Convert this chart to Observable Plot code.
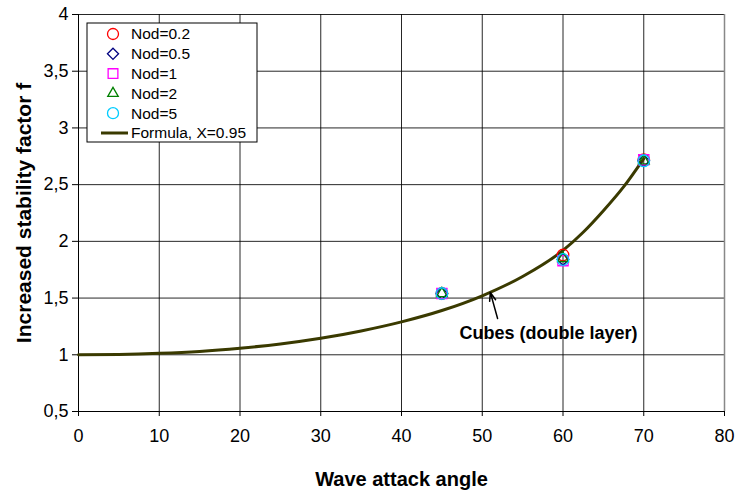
<!DOCTYPE html>
<html>
<head>
<meta charset="utf-8">
<script src="https://cdn.jsdelivr.net/npm/d3@7"></script>
<script src="https://cdn.jsdelivr.net/npm/@observablehq/plot@0.6"></script>
<style>
  html, body { margin: 0; padding: 0; background: #fff; }
  #chart { position: relative; width: 738px; height: 493px; }
  svg { font-family: "Liberation Sans", Arial, sans-serif; }
</style>
</head>
<body>
<div id="chart"></div>
<script>
// ---- data ----
const angles = [45, 60, 70];
const nod02 = [1.54, 1.88, 2.72];
const nod05 = [1.54, 1.84, 2.71];
const nod1  = [1.54, 1.83, 2.72];
const nod2  = [1.54, 1.85, 2.71];
const nod5  = [1.54, 1.84, 2.71];

const seriesNames   = ["Nod=0.2", "Nod=0.5", "Nod=1", "Nod=2", "Nod=5"];
const seriesValues  = [nod02, nod05, nod1, nod2, nod5];
const seriesSymbols = ["circle", "diamond2", "square2", "triangle2", "circle"];
const seriesColors  = ["#ff0000", "#000080", "#ff00ff", "#008000", "#00ccff"];

const formulaName   = "Formula, X=0.95";
const formulaAngles = [0, 5, 10, 15, 20, 25, 30, 35, 40, 45, 50, 55, 60, 62.5, 65, 67.5, 70];
const formulaF      = [1.0, 1.003, 1.013, 1.03, 1.058, 1.095, 1.145, 1.21, 1.29, 1.39, 1.52, 1.69, 1.92, 2.08, 2.27, 2.48, 2.73];

const xTicks = [0, 10, 20, 30, 40, 50, 60, 70, 80];
const yTicks = [0.5, 1, 1.5, 2, 2.5, 3, 3.5, 4];

const xTitle = "Wave attack angle";
const yTitle = "Increased stability factor f";

const annoText = ["Cubes (double layer)"];
const annoX = [58.2];
const annoY = [1.19];
const arrowX1 = [51.9], arrowY1 = [1.32];
const arrowX2 = [51.0], arrowY2 = [1.55];

// ---- build ----
const pts = [];
seriesValues.forEach((vals, s) => vals.forEach((v, i) => pts.push({x: angles[i], y: v, s})));
const curve = formulaAngles.map((a, i) => ({x: a, y: formulaF[i]}));

const fmt = d => String(d).replace(".", ",");
const lineColor = "#3a3a00";

const marks = [
  Plot.gridX(xTicks, {stroke: "#000", strokeOpacity: 0.85, strokeWidth: 1}),
  Plot.gridY(yTicks, {stroke: "#000", strokeOpacity: 0.85, strokeWidth: 1}),
  Plot.ruleX([80], {stroke: "#888", strokeWidth: 1.5}),
  Plot.axisX(xTicks, {tickFormat: fmt, tickSize: 5, fontSize: 18, tickPadding: 13,
    label: xTitle, labelAnchor: "center", labelOffset: 74}),
  Plot.axisY(yTicks, {tickFormat: fmt, tickSize: 6, fontSize: 18, tickPadding: 4,
    label: yTitle, labelAnchor: "center", labelOffset: 62}),
  Plot.ruleY([0.5], {stroke: "#000", strokeWidth: 1}),
  Plot.ruleX([0], {stroke: "#000", strokeWidth: 1}),
  Plot.line(curve, {x: "x", y: "y", stroke: lineColor, strokeWidth: 3, curve: "monotone-x"}),
];
seriesValues.forEach((vals, s) => {
  marks.push(Plot.dot(pts.filter(d => d.s === s), {
    x: "x", y: "y", symbol: () => seriesSymbols[s], r: s === 3 ? 5.2 : (s === 2 ? 6.5 : (s === 1 ? 5.2 : 5.8)),
    stroke: seriesColors[s], strokeWidth: 1.3, fill: "none"
  }));
});
marks.push(
  Plot.arrow({length: 1}, {x1: () => arrowX1[0], y1: () => arrowY1[0], x2: () => arrowX2[0], y2: () => arrowY2[0],
    stroke: "#000", strokeWidth: 1.5, headLength: 9, headAngle: 40}),
  Plot.text(annoText, {x: () => annoX[0], y: () => annoY[0], text: d => d, fontSize: 18, fontWeight: "bold", fill: "#000"})
);

const chart = Plot.plot({
  width: 738,
  height: 493,
  marginLeft: 78,
  marginRight: 14,
  marginTop: 14,
  marginBottom: 82,
  x: {domain: [0, 80]},
  y: {domain: [0.5, 4]},
  style: {fontFamily: "'Liberation Sans', Arial, sans-serif", color: "#000", background: "#fff"},
  marks
});

// axis titles: bold, no arrows
d3.select(chart).selectAll("[aria-label='x-axis label'] text")
  .attr("font-weight", "bold").attr("font-size", 20)
  .each(function() { this.textContent = this.textContent.replace(/[\u2190-\u2193]/g, "").trim(); });
d3.select(chart).selectAll("[aria-label='y-axis label'] text")
  .attr("font-weight", "bold").attr("font-size", 21)
  .each(function() { this.textContent = this.textContent.replace(/[\u2190-\u2193]/g, "").trim(); });

// ---- legend (inside the plot area) ----
const svg = d3.select(chart);
const lg = svg.append("g").attr("transform", "translate(87,23)").attr("text-anchor", "start");
lg.append("rect").attr("width", 170).attr("height", 119).attr("fill", "#fff").attr("stroke", "#000").attr("stroke-width", 1);
const entries = seriesNames.map((n, i) => ({name: n, sym: seriesSymbols[i], color: seriesColors[i]}));
const symMap = {circle: d3.symbolCircle, diamond2: d3.symbolDiamond2, square2: d3.symbolSquare2, triangle2: d3.symbolTriangle2};
const symSizes = {circle: Math.PI * 5.5 * 5.5, diamond2: Math.PI * 25, square2: Math.PI * 6.2 * 6.2, triangle2: Math.PI * 25};
entries.forEach((e, i) => {
  const y = 11 + i * 19.8;
  lg.append("path").attr("d", d3.symbol(symMap[e.sym], symSizes[e.sym])())
    .attr("transform", `translate(26,${y})`).attr("fill", "none").attr("stroke", e.color).attr("stroke-width", 1.3);
  lg.append("text").attr("x", 44).attr("y", y).attr("dy", "0.35em").attr("font-size", 15.5)
    .attr("text-anchor", "start").attr("fill", "#000").text(e.name);
});
{
  const y = 11 + 5 * 19.8;
  lg.append("line").attr("x1", 14).attr("x2", 41).attr("y1", y).attr("y2", y).attr("stroke", lineColor).attr("stroke-width", 3);
  lg.append("text").attr("x", 44).attr("y", y).attr("dy", "0.35em").attr("font-size", 15.5)
    .attr("text-anchor", "start").attr("fill", "#000").text(formulaName);
}

document.getElementById("chart").appendChild(chart);
</script>
</body>
</html>
